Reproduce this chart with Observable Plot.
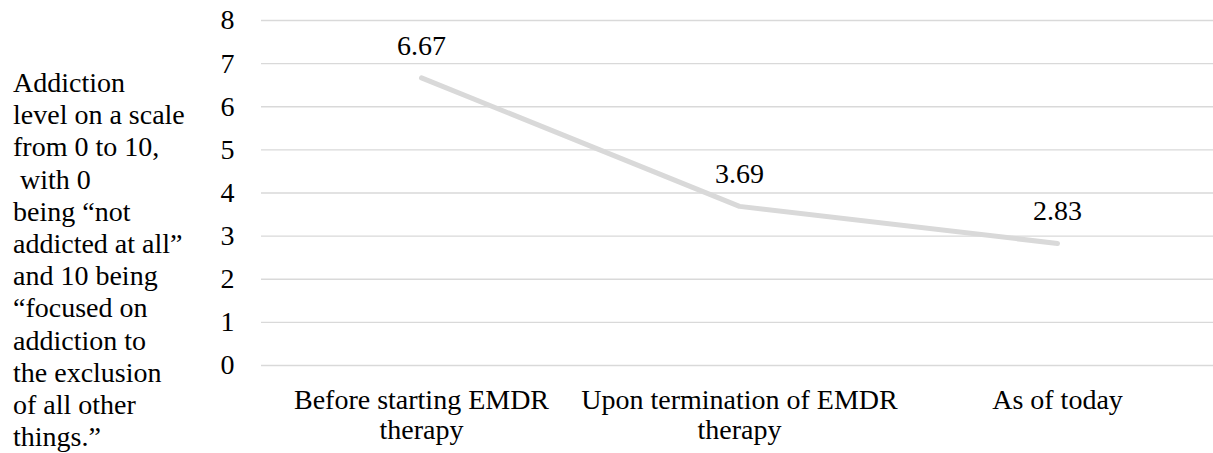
<!DOCTYPE html>
<html>
<head>
<meta charset="utf-8">
<script src="https://cdn.jsdelivr.net/npm/d3@7"></script>
<script src="https://cdn.jsdelivr.net/npm/@observablehq/plot@0.6"></script>
<style>
  html, body { margin: 0; padding: 0; background: #fff; }
  #wrap { position: relative; width: 1213px; height: 453px; overflow: hidden; }
  #ylabel {
    position: absolute; left: 13px; top: 67px;
    font-family: 'Liberation Serif', 'Times New Roman', serif;
    font-size: 28px; line-height: 32.2px; color: #000; white-space: pre;
  }
  #chart { position: absolute; left: 0; top: 0; }
</style>
</head>
<body>
<div id="wrap">
  <div id="chart"></div>
  <div id="ylabel"></div>
</div>
<script>
const categories = ["Before starting EMDR therapy", "Upon termination of EMDR therapy", "As of today"];
const tickLabels = ["Before starting EMDR\ntherapy", "Upon termination of EMDR\ntherapy", "As of today"];
const values = [6.67, 3.69, 2.83];
const yTicks = [0, 1, 2, 3, 4, 5, 6, 7, 8];
const yTitleLines = ["Addiction", "level on a scale", "from 0 to 10,", " with 0", "being \u201cnot", "addicted at all\u201d", "and 10 being", "\u201cfocused on", "addiction to", "the exclusion", "of all other", "things.\u201d"];

const data = categories.map((c, i) => ({category: c, value: values[i]}));
const labelOf = new Map(categories.map((c, i) => [c, tickLabels[i]]));

const font = "'Liberation Serif', 'Times New Roman', serif";

const plot = Plot.plot({
  width: 1213,
  height: 453,
  marginLeft: 261,
  marginRight: 0,
  marginTop: 20,
  marginBottom: 88,
  style: {fontFamily: font, fontSize: "28px", color: "#000", background: "transparent"},
  x: {type: "point", domain: categories, range: [261, 1216], padding: 0.5},
  y: {domain: [0, 8]},
  marks: [
    Plot.ruleY(yTicks, {stroke: "#d9d9d9", strokeWidth: 1.4, strokeOpacity: 1}),
    Plot.axisY({ticks: yTicks, tickSize: 0, tickPadding: 27, fontSize: 28, fontFamily: font, label: null, tickFormat: d => String(d)}),
    Plot.axisX({tickSize: 0, tickPadding: 22, fontSize: 28, fontFamily: font, label: null, lineHeight: 1.07, tickFormat: d => labelOf.get(d)}),
    Plot.line(data, {x: "category", y: "value", stroke: "#d9d9d9", strokeWidth: 5, strokeLinecap: "round", strokeLinejoin: "round"}),
    Plot.text(data, {x: "category", y: "value", text: d => d.value.toFixed(2), dy: -32, fontSize: 28, fontFamily: font, fill: "#000"})
  ]
});
document.getElementById("chart").appendChild(plot);
document.getElementById("ylabel").textContent = yTitleLines.join("\n");
</script>
</body>
</html>
